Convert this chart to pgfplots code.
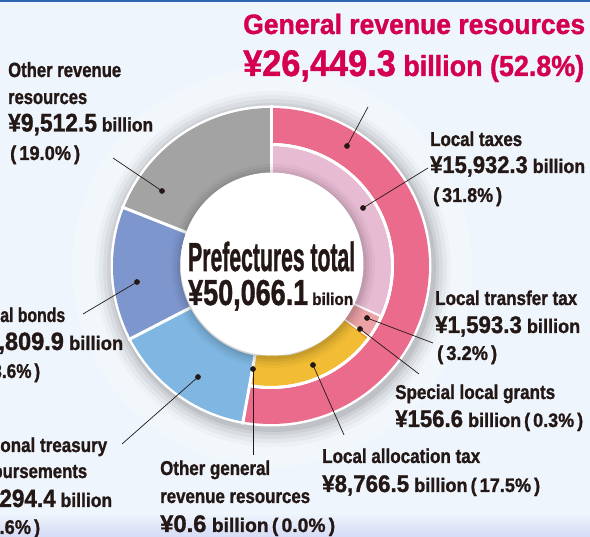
\documentclass[border=0pt]{standalone}
\usepackage{pgfplots}
\pgfplotsset{compat=1.18}
\usepackage{pgfplotstable}
\usepackage{xfp}
\usepackage{graphicx}
\usepackage{fontspec}
\setmainfont{Liberation Sans}[BoldFeatures={FakeBold=1.3}]

\definecolor{txt}{HTML}{231815}
\definecolor{red1}{HTML}{D4004F}
\definecolor{pinkO}{HTML}{EA6B8C}
\definecolor{pinkL}{HTML}{E7BBD2}
\definecolor{salmon}{HTML}{EBA3A6}
\definecolor{orng}{HTML}{E9931F}
\definecolor{yel}{HTML}{F2BD34}
\definecolor{lblue}{HTML}{7FB6E2}
\definecolor{blue1}{HTML}{7D96CE}
\definecolor{gray1}{HTML}{A4A3A3}
\definecolor{bg}{HTML}{EEF5FC}
\definecolor{topblue}{HTML}{2C66AE}

% data (billion yen)
\def\Total{50066.1}
\def\vLT{15932.3}  % local taxes
\def\vLTT{1593.3}  % local transfer tax
\def\vSLG{156.6}   % special local grants
\def\vLAT{8766.5}  % local allocation tax
\def\vOGR{0.6}     % other general revenue resources
\def\vGEN{26449.3} % general revenue resources
\def\vNTD{7294.4}  % national treasury disbursements
\def\vLB{6809.9}   % local bonds
\def\vORR{9512.5}  % other revenue resources

\def\Cx{271}
\def\Cy{271}

\newsavebox\tbox
\newcommand\fitw[2]{\sbox\tbox{#2}\pgfmathsetmacro\sx{#1/\the\wd\tbox}\scalebox{\sx}[1]{\usebox\tbox}}
\newcommand\fs[1]{\fontsize{#1}{#1}\selectfont}

% annular sector: start (cumulative value), value, r1, r2, colour
\newcommand\seg[5]{%
  \edef\aA{\fpeval{90-360*(#1)/\Total}}%
  \edef\aB{\fpeval{90-360*((#1)+(#2))/\Total}}%
  \edef\rmid{\fpeval{((#3)+(#4))/2}}%
  \edef\lw{\fpeval{(#4)-(#3)}}%
  \edef\doplot{\noexpand\addplot[draw=#5, line width=\lw pt, domain=\aB:\aA, samples=90, forget plot] ({\Cx+\rmid*cos(x)},{\Cy+\rmid*sin(x)});}%
  \doplot}
% radial white separator: cumulative value, r1, r2, width
\newcommand\sepl[4]{%
  \edef\aA{\fpeval{90-360*(#1)/\Total}}%
  \edef\doplot{\noexpand\addplot[draw=white, line width=#4pt, domain=#2:#3, samples=2, forget plot] ({\Cx+x*cos(\aA)},{\Cy+x*sin(\aA)});}%
  \doplot}
% disk: cx, cy, r, options
\newcommand\disk[4]{%
  \addplot[#4, domain=0:360, samples=144, forget plot] ({#1+#3*cos(x)},{#2+#3*sin(x)});}

\begin{document}
\begin{tikzpicture}
\begin{axis}[width=590pt, height=537pt, scale only axis,
  xmin=0, xmax=590, ymin=0, ymax=537, hide axis, clip=true]
% background
\addplot[fill=bg, draw=none, forget plot] coordinates {(0,0) (590,0) (590,537) (0,537)} -- cycle;
\fill[top color=bg, bottom color=bg!80!black!60!blue!20!bg] (axis cs:0,0) rectangle (axis cs:590,24);
\addplot[fill=topblue, draw=none, forget plot] coordinates {(0,535) (590,535) (590,537) (0,537)} -- cycle;

% soft lighter halo and outer shadow
\disk{272}{270}{200}{fill=white, fill opacity=0.25, draw=none}
\disk{273}{268}{178}{fill=black, fill opacity=0.025, draw=none}
\disk{273}{268}{174}{fill=black, fill opacity=0.035, draw=none}
\disk{273}{268}{170}{fill=black, fill opacity=0.045, draw=none}
\disk{273}{268}{166}{fill=black, fill opacity=0.055, draw=none}
\disk{273}{268}{163}{fill=black, fill opacity=0.07, draw=none}
% white outline
\disk{\Cx}{\Cy}{160.5}{fill=white, draw=none}

% general revenue resources (outer ring)
\seg{0}{\vGEN}{123}{158}{pinkO}
% inner ring breakdown
\seg{0}{\vLT}{91}{120}{pinkL}
\seg{\vLT}{\vLTT}{91}{120}{salmon}
\seg{\vLT+\vLTT}{\vSLG}{91}{120}{orng}
\seg{\vLT+\vLTT+\vSLG}{\vLAT}{91}{120}{yel}
\seg{\vLT+\vLTT+\vSLG+\vLAT}{\vOGR}{91}{120}{yel}
% other full-width sectors
\seg{\vGEN}{\vNTD}{91}{158}{lblue}
\seg{\vGEN+\vNTD}{\vLB}{91}{158}{blue1}
\seg{\vGEN+\vNTD+\vLB}{\vORR}{91}{158}{gray1}

% white gap between outer pink and inner ring
\edef\gA{\fpeval{90-360*\vGEN/\Total}}
\edef\doplot{\noexpand\addplot[draw=white, line width=3pt, domain=\gA:90, samples=90, forget plot] ({\Cx+121.5*cos(x)},{\Cy+121.5*sin(x)});}
\doplot
% separators
\sepl{0}{88}{161}{3}
\sepl{\vGEN}{88}{161}{3}
\sepl{\vGEN+\vNTD}{88}{161}{3}
\sepl{\vGEN+\vNTD+\vLB}{88}{161}{3}
\sepl{\vLT}{88}{121.5}{2}
\sepl{\vLT+\vLTT}{88}{121.5}{1.6}

% inner shadow and centre disk
\disk{273}{271}{102}{fill=black, fill opacity=0.03, draw=none}
\disk{273}{271}{99}{fill=black, fill opacity=0.04, draw=none}
\disk{273}{271}{96}{fill=black, fill opacity=0.05, draw=none}
\disk{273}{271}{93.5}{fill=black, fill opacity=0.06, draw=none}
\disk{272}{273}{91.5}{fill=white, draw=none}

% leader lines
\addplot[txt, line width=0.7pt, forget plot] coordinates {(347,391) (368,430)};
\addplot[txt, line width=0.7pt, forget plot] coordinates {(363,329) (428,369)};
\addplot[txt, line width=0.7pt, forget plot] coordinates {(162,346) (113,379)};
\addplot[txt, line width=0.7pt, forget plot] coordinates {(137,255) (83,223)};
\addplot[txt, line width=0.7pt, forget plot] coordinates {(198,160) (122,93)};
\addplot[txt, line width=0.7pt, forget plot] coordinates {(253,168) (253,82)};
\addplot[txt, line width=0.7pt, forget plot] coordinates {(367,219) (433,194)};
\addplot[txt, line width=0.7pt, forget plot] coordinates {(360,208) (419,163)};
\addplot[txt, line width=0.7pt, forget plot] coordinates {(313,172) (344,102)};
\addplot[only marks, mark=*, mark size=2.6pt, txt, forget plot] coordinates {
  (347,391) (363,329) (162,346) (137,255) (198,160) (253,168) (367,219) (360,208) (313,172)};

% texts
\tikzset{lab/.style={anchor=base west, inner sep=0pt, text=txt, font=\bfseries}}
\node[lab, text=red1] at (axis cs:243,503) {\fitw{342}{\fs{28}\bfseries General revenue resources}};
\node[lab, text=red1] at (axis cs:243,461) {\fitw{341}{\bfseries\fs{37}¥26,449.3\fs{29} billion (52.8\%)}};

\node[lab] at (axis cs:8,460) {\fitw{113}{\fs{20.5}\bfseries Other revenue}};
\node[lab] at (axis cs:8,433) {\fitw{79}{\fs{20.5}\bfseries resources}};
\node[lab] at (axis cs:8,405.5) {\fitw{145}{\bfseries\fs{25.5}¥9,512.5\fs{19.5} billion}};
\node[lab] at (axis cs:10,377) {\fitw{70}{\bfseries\fs{20}(\,19.0\%\,)}};

\node[lab] at (axis cs:430,391) {\fitw{92}{\fs{20}\bfseries Local taxes}};
\node[lab] at (axis cs:430,364) {\fitw{155}{\bfseries\fs{24}¥15,932.3\fs{19.5} billion}};
\node[lab] at (axis cs:433,335) {\fitw{69}{\bfseries\fs{20}(\,31.8\%\,)}};

\node[lab] at (axis cs:435,232) {\fitw{142}{\fs{20}\bfseries Local transfer tax}};
\node[lab] at (axis cs:435,204) {\fitw{145}{\bfseries\fs{24}¥1,593.3\fs{19.5} billion}};
\node[lab] at (axis cs:437,177) {\fitw{60}{\bfseries\fs{20}(\,3.2\%\,)}};

\node[lab] at (axis cs:395,138) {\fitw{160}{\fs{20}\bfseries Special local grants}};
\node[lab] at (axis cs:395,110) {\fitw{188}{\bfseries\fs{24}¥156.6\fs{19.5} billion\,(\,0.3\%\,)}};

\node[lab] at (axis cs:322,74) {\fitw{158}{\fs{20}\bfseries Local allocation tax}};
\node[lab] at (axis cs:322,45) {\fitw{218}{\bfseries\fs{24}¥8,766.5\fs{19.5} billion\,(\,17.5\%\,)}};

\node[lab] at (axis cs:160,62) {\fitw{110}{\fs{20}\bfseries Other general}};
\node[lab] at (axis cs:160,34) {\fitw{150}{\fs{20}\bfseries revenue resources}};
\node[lab] at (axis cs:160,5) {\fitw{175}{\bfseries\fs{24}¥0.6\fs{19.5} billion\,(\,0.0\%\,)}};

\node[lab] at (axis cs:-28,215) {\fitw{93}{\fs{20}\bfseries Local bonds}};
\node[lab] at (axis cs:-28,187) {\fitw{151}{\bfseries\fs{25}¥6,809.9\fs{19.5} billion}};
\node[lab] at (axis cs:-26,159) {\fitw{66}{\bfseries\fs{20}(\,13.6\%\,)}};

\node[lab] at (axis cs:-32,85) {\fitw{139}{\fs{20}\bfseries National treasury}};
\node[lab] at (axis cs:-32,59) {\fitw{119}{\fs{20}\bfseries disbursements}};
\node[lab] at (axis cs:-32,30) {\fitw{144}{\bfseries\fs{25}¥7,294.4\fs{19.5} billion}};
\node[lab] at (axis cs:-30,3) {\fitw{70}{\bfseries\fs{20}(\,14.6\%\,)}};

\node[lab] at (axis cs:188,266) {\fitw{167}{\fs{40.5}\bfseries Prefectures total}};
\node[lab] at (axis cs:188,232) {\fitw{120}{\fs{36}\bfseries ¥50,066.1}};
\node[lab] at (axis cs:312,232) {\fitw{41}{\fs{17}\bfseries bilion}};
\end{axis}
\pgfresetboundingbox
\useasboundingbox (current axis.south west) rectangle (current axis.north east);
\end{tikzpicture}
\end{document}
